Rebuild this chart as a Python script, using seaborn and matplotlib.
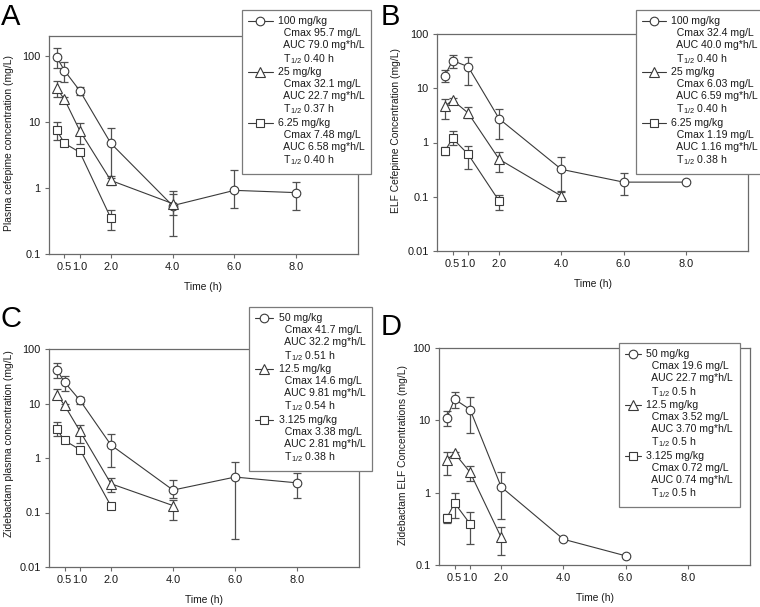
import numpy as np
import pandas as pd
import matplotlib
matplotlib.use("Agg")
import matplotlib.pyplot as plt
import seaborn as sns
from matplotlib.lines import Line2D
from matplotlib.ticker import FixedLocator, FixedFormatter, NullLocator

# ---------------- data ----------------
# Panel A: plasma cefepime
A_t100 = [0.25, 0.5, 1, 2, 4, 6, 8]
A_v100 = [95.7, 60, 29.5, 4.75, 0.54, 0.92, 0.85]
A_h100 = [132, 80, 33.5, 8.0, 0.9, 1.9, 1.25]
A_l100 = [66, 40, 26, 1.4, 0.19, 0.5, 0.46]
A_t25 = [0.25, 0.5, 1, 2, 4]
A_v25 = [32.1, 22, 7.3, 1.3, 0.58]
A_h25 = [41.8, 24, 9.5, 1.5, 0.81]
A_l25 = [24, 20.5, 4.6, 1.1, 0.39]
A_t6 = [0.25, 0.5, 1, 2]
A_v6 = [7.48, 4.75, 3.46, 0.35]
A_h6 = [9.8, 5.0, 3.7, 0.46]
A_l6 = [5.3, 4.5, 3.2, 0.23]

# Panel B: ELF cefepime
B_t100 = [0.25, 0.5, 1, 2, 4, 6, 8]
B_v100 = [16.9, 32.4, 25, 2.73, 0.32, 0.186, 0.186]
B_h100 = [21.4, 41.7, 37.7, 4.2, 0.53, 0.27, 0.186]
B_l100 = [13, 23.7, 11.4, 1.15, 0.12, 0.106, 0.186]
B_t25 = [0.25, 0.5, 1, 2, 4]
B_v25 = [4.66, 6.03, 3.5, 0.49, 0.103]
B_h25 = [6.3, 6.5, 4.47, 0.67, 0.125]
B_l25 = [2.7, 5.6, 2.77, 0.28, 0.095]
B_t6 = [0.25, 0.5, 1, 2]
B_v6 = [0.69, 1.19, 0.61, 0.083]
B_h6 = [0.83, 1.64, 0.88, 0.107]
B_l6 = [0.58, 0.89, 0.33, 0.057]

# Panel C: plasma zidebactam
C_t50 = [0.25, 0.5, 1, 2, 4, 6, 8]
C_v50 = [41.7, 24.7, 11.4, 1.73, 0.258, 0.447, 0.35]
C_h50 = [55, 31.4, 12.9, 2.7, 0.4, 0.86, 0.52]
C_l50 = [28.9, 17, 10, 0.69, 0.186, 0.033, 0.186]
C_t12 = [0.25, 0.5, 1, 2, 4]
C_v12 = [14.6, 9.3, 3.1, 0.337, 0.134]
C_h12 = [18.4, 9.8, 4.1, 0.43, 0.17]
C_l12 = [12.4, 8.8, 1.86, 0.237, 0.074]
C_t3 = [0.25, 0.5, 1, 2]
C_v3 = [3.38, 2.1, 1.42, 0.131]
C_h3 = [4.5, 2.2, 1.5, 0.137]
C_l3 = [2.54, 2.0, 1.34, 0.125]

# Panel D: ELF zidebactam
D_t50 = [0.25, 0.5, 1, 2, 4, 6]
D_v50 = [10.8, 19.6, 14.1, 1.2, 0.227, 0.134]
D_h50 = [13.6, 25, 21, 1.95, 0.227, 0.134]
D_l50 = [8.3, 14.6, 6.6, 0.43, 0.227, 0.134]
D_t12 = [0.25, 0.5, 1, 2]
D_v12 = [2.83, 3.52, 1.91, 0.24]
D_h12 = [3.68, 3.7, 2.36, 0.33]
D_l12 = [1.73, 3.35, 1.43, 0.138]
D_t3 = [0.25, 0.5, 1]
D_v3 = [0.447, 0.72, 0.37]
D_h3 = [0.51, 1.0, 0.535]
D_l3 = [0.38, 0.44, 0.195]

x_ticks = [0.5, 1, 2, 4, 6, 8]
x_ticklabels = ["0.5", "1.0", "2.0", "4.0", "6.0", "8.0"]

A_doses = ["100 mg/kg", "25 mg/kg", "6.25 mg/kg"]
A_cmax = ["95.7", "32.1", "7.48"]
A_auc = ["79.0", "22.7", "6.58"]
A_thalf = ["0.40", "0.37", "0.40"]
B_doses = ["100 mg/kg", "25 mg/kg", "6.25 mg/kg"]
B_cmax = ["32.4", "6.03", "1.19"]
B_auc = ["40.0", "6.59", "1.16"]
B_thalf = ["0.40", "0.40", "0.38"]
C_doses = ["50 mg/kg", "12.5 mg/kg", "3.125 mg/kg"]
C_cmax = ["41.7", "14.6", "3.38"]
C_auc = ["32.2", "9.81", "2.81"]
C_thalf = ["0.51", "0.54", "0.38"]
D_doses = ["50 mg/kg", "12.5 mg/kg", "3.125 mg/kg"]
D_cmax = ["19.6", "3.52", "0.72"]
D_auc = ["22.7", "3.70", "0.74"]
D_thalf = ["0.5", "0.5", "0.5"]

# ---------------- style ----------------
sns.set_style("ticks")
plt.rcParams["font.family"] = ["Liberation Sans", "DejaVu Sans"]
plt.rcParams["mathtext.fontset"] = "custom"
plt.rcParams["mathtext.rm"] = "Liberation Sans"
plt.rcParams["mathtext.it"] = "Liberation Sans:italic"
plt.rcParams["mathtext.bf"] = "Liberation Sans:bold"

LINE = "#3a3a3a"
ERR = "#505050"
SPINE = "#6a6a6a"
TXT = "#1a1a1a"
MARKERS = ["o", "^", "s"]
MSIZE = {"o": 6.2, "^": 6.8, "s": 6.0}

W, H = 760, 607
fig = plt.figure(figsize=(W / 100, H / 100), dpi=100)


def make_axes(l, r, t, b):
    return fig.add_axes([l / W, 1 - b / H, (r - l) / W, (b - t) / H])


panels = [
    dict(rect=(49, 358, 36, 254), ylim=(0.1, 200), yt=[0.1, 1, 10, 100], ytl=["0.1", "1", "10", "100"],
         ylabel="Plasma cefepime concentration (mg/L)", ylc=(-0.113, 0.511),
         letter="A", lpos=(1, 3), leg=(242, 10), hl=2.3,
         series=[(A_t100, A_v100, A_l100, A_h100), (A_t25, A_v25, A_l25, A_h25), (A_t6, A_v6, A_l6, A_h6)],
         doses=A_doses, cmax=A_cmax, auc=A_auc, th=A_thalf),
    dict(rect=(437, 748, 34, 251), ylim=(0.01, 100), yt=[0.01, 0.1, 1, 10, 100],
         ytl=["0.01", "0.1", "1", "10", "100"],
         ylabel="ELF Cefepime Concentration (mg/L)", ylc=(-0.116, 0.553),
         letter="B", lpos=(381, 3), leg=(636, 10), hl=2.2,
         series=[(B_t100, B_v100, B_l100, B_h100), (B_t25, B_v25, B_l25, B_h25), (B_t6, B_v6, B_l6, B_h6)],
         doses=B_doses, cmax=B_cmax, auc=B_auc, th=B_thalf),
    dict(rect=(49, 359, 349, 567), ylim=(0.01, 100), yt=[0.01, 0.1, 1, 10, 100],
         ytl=["0.01", "0.1", "1", "10", "100"],
         ylabel="Zidebactam plasma concentration (mg/L)", ylc=(-0.113, 0.564),
         letter="C", lpos=(1, 305), leg=(249, 307), hl=1.7,
         series=[(C_t50, C_v50, C_l50, C_h50), (C_t12, C_v12, C_l12, C_h12), (C_t3, C_v3, C_l3, C_h3)],
         doses=C_doses, cmax=C_cmax, auc=C_auc, th=C_thalf),
    dict(rect=(439, 750, 348, 565), ylim=(0.1, 100), yt=[0.1, 1, 10, 100], ytl=["0.1", "1", "10", "100"],
         ylabel="Zidebactam ELF Concentrations (mg/L)", ylc=(-0.101, 0.507),
         letter="D", lpos=(381, 313), leg=(619, 343), hl=1.5,
         series=[(D_t50, D_v50, D_l50, D_h50), (D_t12, D_v12, D_l12, D_h12), (D_t3, D_v3, D_l3, D_h3)],
         doses=D_doses, cmax=D_cmax, auc=D_auc, th=D_thalf),
]

for p in panels:
    ax = make_axes(*p["rect"])
    ax.set_yscale("log")
    for (t, v, lo, hi), mk in zip(p["series"], MARKERS):
        v_arr = np.array(v)
        yerr = np.vstack([v_arr - np.array(lo), np.array(hi) - v_arr])
        ax.errorbar(t, v, yerr=yerr, fmt="none", ecolor=ERR, elinewidth=0.9,
                    capsize=3.0, capthick=0.9, zorder=2)
        df = pd.DataFrame({"time": t, "conc": v})
        sns.lineplot(data=df, x="time", y="conc", ax=ax, color=LINE, linewidth=0.8,
                     marker=mk, markersize=MSIZE[mk],
                     markerfacecolor="white", markeredgecolor=LINE, markeredgewidth=0.8,
                     estimator=None, sort=False, errorbar=None, legend=False, zorder=3)
    ax.set_xlim(0, 10)
    ax.set_ylim(*p["ylim"])
    ax.xaxis.set_major_locator(FixedLocator(x_ticks))
    ax.xaxis.set_major_formatter(FixedFormatter(x_ticklabels))
    ax.xaxis.set_minor_locator(NullLocator())
    ax.yaxis.set_major_locator(FixedLocator(p["yt"]))
    ax.yaxis.set_major_formatter(FixedFormatter(p["ytl"]))
    ax.yaxis.set_minor_locator(NullLocator())
    ax.tick_params(axis="both", which="major", direction="out", length=3, width=0.8,
                   color=SPINE, labelsize=7.9, labelcolor=TXT, pad=3)
    for s in ax.spines.values():
        s.set_color(SPINE)
        s.set_linewidth(0.9)
    ax.set_xlabel("Time (h)", fontsize=7.4, color=TXT, labelpad=7)
    ax.set_ylabel(p["ylabel"], fontsize=7.4, color=TXT)
    ax.yaxis.set_label_coords(*p["ylc"])

    # legend
    handles, labels = [], []
    for mk, d, c, a, th in zip(MARKERS, p["doses"], p["cmax"], p["auc"], p["th"]):
        handles.append(Line2D([], [], color=LINE, linewidth=0.8, marker=mk, markersize=MSIZE[mk],
                              markerfacecolor="white", markeredgecolor=LINE, markeredgewidth=0.8))
        labels.append(d)
        for txt in [f"Cmax {c} mg/L", f"AUC {a} mg*h/L", "T$_{\\mathregular{1/2}}$ " + th + " h"]:
            handles.append(Line2D([], [], linestyle="none", marker=""))
            labels.append("  " + txt)
    lx, ly = p["leg"]
    leg = ax.legend(handles, labels, loc="upper left", bbox_to_anchor=(lx / W, 1 - ly / H),
                    bbox_transform=fig.transFigure, frameon=True, fancybox=False, framealpha=1,
                    edgecolor="#7a7a7a", fontsize=7.6, handlelength=p["hl"], handletextpad=0.5,
                    labelspacing=0.17, borderpad=0.6, borderaxespad=0)
    leg.get_frame().set_linewidth(0.9)
    for tx in leg.get_texts():
        tx.set_color(TXT)

    fx, fy = p["lpos"]
    fig.text(fx / W, 1 - fy / H, p["letter"], fontsize=21, color="black", ha="left", va="top")

fig.savefig("out.png", dpi=100)
